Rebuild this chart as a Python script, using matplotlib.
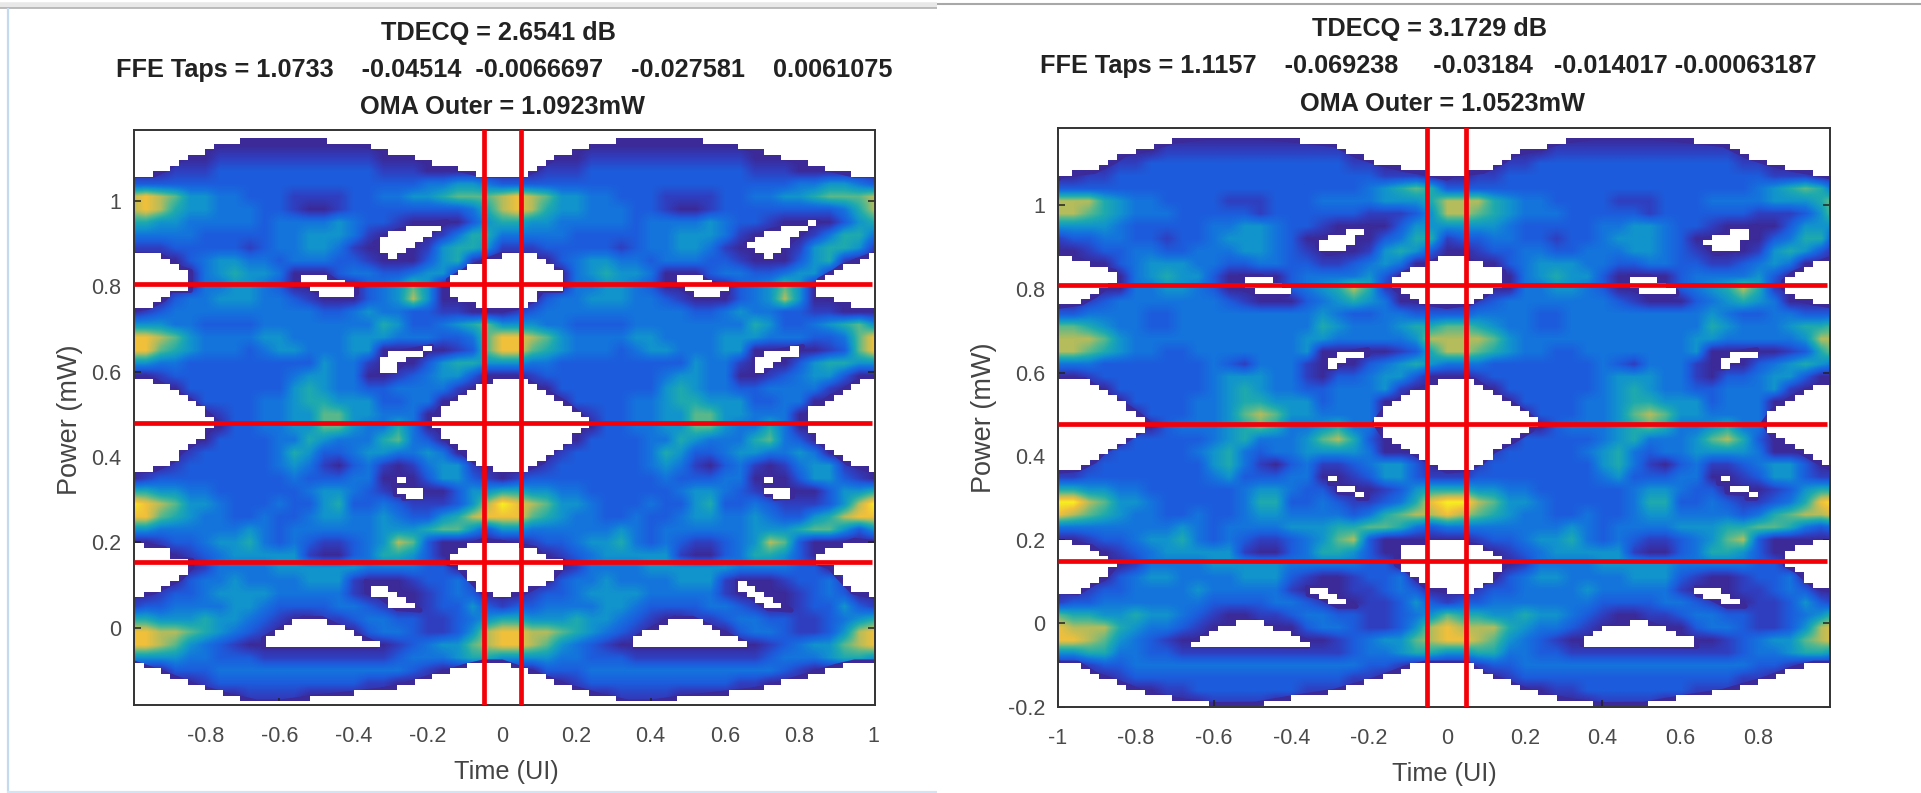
import numpy as np
import matplotlib
matplotlib.use("Agg")
import matplotlib.pyplot as plt
from matplotlib.colors import LinearSegmentedColormap, Normalize
from matplotlib.lines import Line2D
from matplotlib.path import Path

plt.rcParams['font.family'] = ['Liberation Sans', 'DejaVu Sans']

W, H = 1921, 793

# Density of one unit interval.
# Rows: power from 1.16 down to -0.19 mW in 0.03 steps. Columns: time -1.00 .. -0.04 UI in 0.04 steps.
# 0/1 = navy ... a = yellow.  White areas are outlined separately below.
eye_left = [
    "0000000000000000000000000",
    "0000000111111111000000000",
    "0000112222222222211100000",
    "0012223333333333322211000",
    "3333333333333333333344554",
    "8987554433322223344556777",
    "8986554443321123333333346",
    "6655444443444454332110135",
    "4444433333445554210012466",
    "2223333323445542100125665",
    "0011345544344433211135621",
    "0000145655411134433455210",
    "0000144554310001345751000",
    "0013445554432111345851000",
    "1234444444444334544332211",
    "5554433334444444465334567",
    "9987544445544445554443347",
    "9976544434554445511001237",
    "5544333333333544200135665",
    "1123333333345544112345531",
    "0001333333356544334444210",
    "0000133334456655533441000",
    "0000012334455775544410000",
    "0000001334455775446410000",
    "0000013333446544467431000",
    "0001233333465334554454100",
    "0012333333454213421245521",
    "1233333333343334410135532",
    "6655443333334554321011355",
    "a987554333433563343222358",
    "9976544334334554454335689",
    "5544444454344444455567753",
    "1123345564343223458731110",
    "0001234555552113466531000",
    "0000124444555555444433100",
    "0001344544445552101233421",
    "0123345555444442100123431",
    "2334444554333344321023353",
    "6655565543211223443322345",
    "9988765432100001344322358",
    "9987543210000000012345578",
    "5555443332222222223444566",
    "0013334444444444444321000",
    "0000123333333333221100000",
    "0000000122221100000000000",
    "0000000000000000000000000",
]
eye_right = [
    "1111111111111111111111111",
    "1111111222222222222111111",
    "1111223333333333333221111",
    "1122333333333333333332221",
    "3333333333333333333345676",
    "8886544333322233344445556",
    "8876544433333233333322235",
    "5555433333445543321111355",
    "2334433233455543111113466",
    "1123344334445543211125653",
    "1111345554433443322345411",
    "1111145655311113444453111",
    "1111144554311113456862111",
    "1123444444432111345654111",
    "3344443344444444454334433",
    "7765443344444444465444566",
    "8887544444444444554444458",
    "8876544334444444511111236",
    "4443333333432444211134565",
    "1123333333455544213345531",
    "1111333333456544334445211",
    "1111133334456655534441111",
    "1111113334457875544441111",
    "1111111344456764456441111",
    "1111133333456444578631111",
    "1112333334564344555541111",
    "1123333333564213422345531",
    "2233333333453334411235532",
    "6655443333334554331112356",
    "aa87554333334663343223469",
    "9876544334334554444346788",
    "4444444454344445556677643",
    "1123345564343223457831111",
    "1111234555552113466531111",
    "1111124444555554444433111",
    "1111345544445553211233411",
    "1123344445444442111223431",
    "2334444444333344321122353",
    "7665565543211223443322345",
    "9888654432111111344322358",
    "9987543211111111112345578",
    "5566443322222222222344566",
    "1123344444444444444433211",
    "1111233333333333333221111",
    "1111111223333333222111111",
    "1111111111222211111111111",
]

power_top, power_step = 1.16, 0.03
time_left, time_step = -1.0, 0.04
# histogram bin size of the white areas (the stair steps of the reference)
bin_time, bin_power = 0.0235, 0.0128

# --- outlines of the empty (white) regions: (time, power) ---
top_left = [(-1, 1.06), (-.94, 1.06), (-.9, 1.077), (-.86, 1.10), (-.82, 1.11), (-.77, 1.127), (-.70, 1.14),
            (-.61, 1.147), (-.55, 1.15), (-.46, 1.14), (-.37, 1.13), (-.28, 1.11), (-.19, 1.09), (-.10, 1.07),
            (-.05, 1.06)]
bottom_left = [(-1, -.08), (-.91, -.107), (-.82, -.138), (-.73, -.16), (-.66, -.174), (-.6, -.174), (-.5, -.162),
               (-.41, -.154), (-.33, -.146), (-.28, -.138), (-.2, -.117), (-.1, -.09), (-.05, -.08)]
upper_gap_left = [(-.05, .858), (0, .875), (.08, .872), (.135, .842), (.16, .835), (.16, .79), (.108, .79), (.09, .77),
                  (.045, .75), (0, .745), (-.05, .749), (-.104, .768), (-.145, .776), (-.145, .815), (-.104, .835),
                  (-.086, .846)]
middle_gap_left = [(0, .585), (.063, .58), (.108, .557), (.135, .545), (.171, .526), (.189, .514), (.235, .48),
                   (.211, .463), (.184, .44), (.135, .413), (.112, .39), (.063, .37), (0, .366), (-.05, .381),
                   (-.068, .385), (-.104, .409), (-.14, .432), (-.167, .46), (-.19, .48), (-.167, .514), (-.145, .522),
                   (-.113, .542), (-.086, .553), (-.05, .573)]
lower_gap_left = [(0, .2), (.09, .186), (.112, .163), (.164, .158), (.164, .143), (.135, .116), (.108, .104),
                  (.063, .084), (0, .073), (-.055, .084), (-.095, .12), (-.118, .143), (-.145, .15), (-.145, .17),
                  (-.104, .19), (-.05, .205)]
inner_left = [
    [(-.342, .901), (-.284, .929), (-.221, .941), (-.149, .952), (-.212, .913), (-.248, .886), (-.284, .866),
     (-.32, .877)],
    [(-.54, .823), (-.468, .823), (-.446, .811), (-.392, .796), (-.392, .784), (-.446, .772), (-.486, .78),
     (-.518, .796), (-.54, .811)],
    [(-.32, .628), (-.293, .643), (-.239, .651), (-.19, .659), (-.212, .639), (-.257, .628), (-.293, .6), (-.32, .6)],
    [(-.293, .349), (-.266, .349), (-.266, .334), (-.293, .334)],
    [(-.288, .323), (-.217, .323), (-.217, .307), (-.266, .303), (-.266, .312), (-.288, .312)],
    [(-.365, .108), (-.32, .096), (-.284, .073), (-.221, .041), (-.284, .045), (-.329, .073), (-.365, .084)],
    [(-.536, .022), (-.486, .022), (-.342, -.037), (-.342, -.045), (-.643, -.045), (-.643, -.025), (-.562, .014)],
]

top_right = [(-1, 1.065), (-.983, 1.073), (-.906, 1.081), (-.854, 1.105), (-.829, 1.121), (-.76, 1.137), (-.70, 1.153),
             (-.597, 1.165), (-.503, 1.165), (-.409, 1.157), (-.289, 1.145), (-.229, 1.117), (-.177, 1.101),
             (-.109, 1.085), (-.057, 1.077)]
bottom_right = [(-1, -.095), (-.949, -.095), (-.901, -.123), (-.85, -.139), (-.777, -.166), (-.674, -.186),
                (-.597, -.194), (-.494, -.193), (-.40, -.178), (-.289, -.162), (-.186, -.134), (-.109, -.107),
                (-.057, -.095)]
upper_gap_right = [(0, .878), (.051, .87), (.099, .854), (.146, .842), (.15, .818), (.12, .802), (.099, .786),
                   (.06, .766), (0, .758), (-.057, .766), (-.092, .774), (-.135, .802), (-.135, .818), (-.109, .838),
                   (-.057, .858)]
middle_gap_right = [(0, .579), (.069, .583), (.12, .551), (.171, .523), (.197, .507), (.231, .483), (.219, .463),
                    (.171, .436), (.12, .412), (.094, .388), (.051, .368), (0, .364), (-.057, .392), (-.109, .42),
                    (-.16, .444), (-.186, .48), (-.165, .507), (-.143, .523), (-.1, .547), (-.032, .575)]
lower_gap_right = [(0, .196), (.043, .192), (.086, .184), (.12, .16), (.15, .14), (.12, .108), (.094, .097),
                   (.051, .073), (0, .077), (-.057, .089), (-.1, .125), (-.13, .14), (-.13, .172), (-.1, .184),
                   (-.032, .196)]
inner_right = [
    [(-.332, .918), (-.306, .926), (-.203, .95), (-.229, .926), (-.254, .894), (-.306, .884), (-.332, .902)],
    [(-.529, .83), (-.477, .83), (-.456, .818), (-.409, .794), (-.409, .787), (-.434, .782), (-.477, .782),
     (-.503, .794), (-.529, .802)],
    [(-.306, .631), (-.263, .647), (-.203, .655), (-.203, .643), (-.254, .631), (-.289, .611), (-.306, .611)],
    [(-.304, .348), (-.284, .348), (-.284, .336), (-.304, .336)],
    [(-.28, .328), (-.233, .324), (-.233, .31), (-.28, .314)],
    [(-.229, .312), (-.205, .31), (-.205, .299), (-.229, .299)],
    [(-.357, .085), (-.314, .085), (-.289, .069), (-.254, .049), (-.233, .041), (-.28, .041), (-.323, .061),
     (-.357, .069)],
    [(-.52, .005), (-.494, .005), (-.357, -.043), (-.357, -.055), (-.653, -.051), (-.653, -.045), (-.589, -.011)],
]

level_colors = ["#3b2a98", "#2f3fc0", "#1c5cdc", "#1474dc", "#1194cc", "#1eaaae",
                "#58b88c", "#b4bc5c", "#f0c03c", "#f8ee20"]

titles_left = ["TDECQ = 2.6541 dB",
               "FFE Taps = 1.0733    -0.04514  -0.0066697    -0.027581    0.0061075",
               "OMA Outer = 1.0923mW"]
titles_right = ["TDECQ = 3.1729 dB",
                "FFE Taps = 1.1157    -0.069238     -0.03184   -0.014017 -0.00063187",
                "OMA Outer = 1.0523mW"]
xticks_left = [-0.8, -0.6, -0.4, -0.2, 0, 0.2, 0.4, 0.6, 0.8, 1]
xticks_right = [-1, -0.8, -0.6, -0.4, -0.2, 0, 0.2, 0.4, 0.6, 0.8]
yticks_left = [0, 0.2, 0.4, 0.6, 0.8, 1]
yticks_right = [-0.2, 0, 0.2, 0.4, 0.6, 0.8, 1]
hlines_left = [0.805, 0.48, 0.153]
hlines_right = [0.81, 0.478, 0.149]
vlines = [-0.05, 0.05]

cmap = LinearSegmentedColormap.from_list("eye", level_colors, N=256)
NAVY = level_colors[0]


def fmt(v):
    return f"{v:g}"


def shifted(points, dt):
    return [(t + dt, p) for t, p in points]


def white_regions(top, bottom, gaps, inner):
    """Closed outlines of all empty regions over the two unit intervals."""
    upper = shifted(top, 0) + shifted(top, 1) + [(1.0, top[0][1]), (1.2, top[0][1]), (1.2, 3), (-1.2, 3), (-1.2, top[0][1])]
    lower = shifted(bottom, 0) + shifted(bottom, 1) + [(1.0, bottom[0][1]), (1.2, bottom[0][1]), (1.2, -3), (-1.2, -3),
                                                      (-1.2, bottom[0][1])]
    regions = [upper, lower]
    for dt in (-1, 0, 1):
        for g in gaps:
            regions.append(shifted(g, dt))
    for dt in (0, 1):
        for g in inner:
            regions.append(shifted(g, dt))
    return regions


def draw_panel(box, rows, regions, xlim, ylim, xticks, yticks, hlines, titles, title_pos, xlab, ylab):
    l, t, r, b = box
    ax = fig.add_axes([l / W, 1 - b / H, (r - l) / W, (b - t) / H])
    period = np.array([[int(c, 16) for c in row] for row in rows], dtype=float)
    grid = np.hstack([period, period, period[:, :1]])
    grid = np.where(grid == 0, 1, grid)
    n_rows, n_cols = grid.shape
    extent = [time_left - time_step / 2, time_left + (n_cols - 0.5) * time_step,
              power_top - (n_rows - 0.5) * power_step, power_top + power_step / 2]
    ax.imshow(grid, extent=extent, origin="upper", aspect="auto", cmap=cmap,
              norm=Normalize(vmin=1, vmax=10), interpolation="bilinear",
              interpolation_stage="data", zorder=1)

    # navy rim round every empty region
    for reg in regions:
        xs, ys = zip(*(reg + reg[:1]))
        ax.plot(xs, ys, color=NAVY, lw=3.5, zorder=1.5, solid_joinstyle="round")

    # empty bins of the histogram
    tb = np.arange(-1.2, 1.2, bin_time) + bin_time / 2
    pb = np.arange(-0.3, 1.3, bin_power) + bin_power / 2
    tt, pp = np.meshgrid(tb, pb)
    pts = np.column_stack([tt.ravel(), pp.ravel()])
    mask = np.zeros(tt.shape, dtype=bool)
    for reg in regions:
        mask |= Path(reg + reg[:1]).contains_points(pts).reshape(tt.shape)
    rgba = np.ones(mask.shape + (4,))
    rgba[..., 3] = mask.astype(float)
    ax.imshow(rgba, extent=[tb[0] - bin_time / 2, tb[-1] + bin_time / 2, pb[0] - bin_power / 2, pb[-1] + bin_power / 2],
              origin="lower", aspect="auto", interpolation="nearest", zorder=2)

    for v in vlines:
        ax.axvline(v, color="#f40008", lw=3.4, zorder=3)
    for h in hlines:
        ax.plot([xlim[0], xlim[1] - 0.008], [h, h], color="#f40008", lw=3.4, zorder=3,
                solid_capstyle="butt")
    ax.set_xlim(*xlim)
    ax.set_ylim(*ylim)
    ax.set_xticks(xticks, [fmt(v) for v in xticks])
    ax.set_yticks(yticks, [fmt(v) for v in yticks])
    ax.tick_params(direction="in", top=True, right=True, length=5, width=1.1,
                   labelsize=15.5, labelcolor="#4a4a4a", color="#222222", pad=9)
    ax.tick_params(axis="x", pad=15)
    for s in ax.spines.values():
        s.set_linewidth(1.4)
        s.set_color("#333333")
    for txt, (x, y) in zip(titles, title_pos):
        fig.text(x / W, 1 - y / H, txt, ha="center", va="center", fontsize=18.2,
                 fontweight="bold", color="#222222")
    fig.text(xlab[0] / W, 1 - xlab[1] / H, "Time (UI)", ha="center", va="center",
             fontsize=18.2, color="#444444")
    fig.text(ylab[0] / W, 1 - ylab[1] / H, "Power (mW)", ha="center", va="center",
             rotation=90, fontsize=19.5, color="#444444")
    return ax


fig = plt.figure(figsize=(W / 100, H / 100), dpi=100, facecolor="white")

draw_panel((134, 130, 875, 705), eye_left,
           white_regions(top_left, bottom_left, [upper_gap_left, middle_gap_left, lower_gap_left], inner_left),
           (-0.992, 1.005), (-0.181, 1.166),
           xticks_left, yticks_left, hlines_left, titles_left,
           [(498, 33), (504, 70), (503, 107)], (506, 772), (70, 420))
draw_panel((1058, 127.6, 1830, 707), eye_right,
           white_regions(top_right, bottom_right, [upper_gap_right, middle_gap_right, lower_gap_right], inner_right),
           (-1.0, 0.985), (-0.2, 1.186),
           xticks_right, yticks_right, hlines_right, titles_right,
           [(1430, 29), (1428, 66), (1442, 104)], (1444, 774), (984, 418))


# window frame of the screenshot
def frame(xs, ys, color, lw):
    fig.add_artist(Line2D([x / W for x in xs], [1 - y / H for y in ys], color=color, lw=lw,
                          solid_capstyle="butt"))


frame([0, 937], [5, 5], "#e8e8e8", 4)
frame([0, 937], [7.5, 7.5], "#b0b0b0", 1.2)
frame([937, 1921], [3.5, 3.5], "#a8a8a8", 1.5)
frame([7.5, 7.5], [8, 793], "#c4daee", 1.6)
frame([7, 937], [791.5, 791.5], "#d4e4f4", 1.6)

fig.savefig("out.png", dpi=100)
